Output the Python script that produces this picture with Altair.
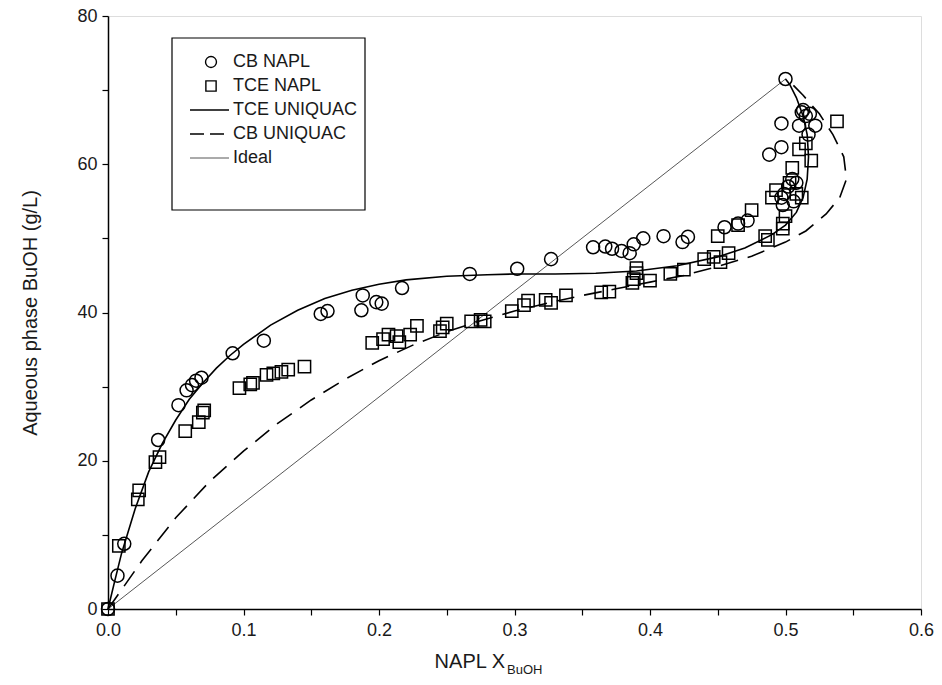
import altair as alt
import pandas as pd

# ---- data ----
cb_x = [0.000, 0.007, 0.012, 0.037, 0.052, 0.058, 0.062, 0.065, 0.069, 0.092, 0.115, 0.157, 0.162,
        0.187, 0.188, 0.198, 0.202, 0.217, 0.267, 0.302, 0.327, 0.358, 0.367, 0.372, 0.379, 0.385,
        0.388, 0.395, 0.410, 0.424, 0.428, 0.455, 0.465, 0.472, 0.488, 0.497, 0.497, 0.500, 0.497,
        0.499, 0.502, 0.505, 0.508, 0.498, 0.510, 0.512, 0.515, 0.517, 0.522, 0.513, 0.518, 0.506]
cb_y = [0.0, 4.5, 8.8, 22.8, 27.5, 29.5, 30.2, 30.8, 31.2, 34.5, 36.2, 39.8, 40.2,
        40.3, 42.3, 41.4, 41.2, 43.3, 45.2, 45.9, 47.2, 48.8, 48.9, 48.6, 48.3, 48.0,
        49.2, 50.0, 50.3, 49.5, 50.2, 51.5, 52.0, 52.4, 61.3, 62.3, 65.5, 71.5, 55.5,
        56.0, 57.0, 58.0, 57.5, 54.5, 65.2, 67.0, 66.5, 64.0, 65.2, 67.3, 66.8, 55.0]

tce_x = [0.000, 0.008, 0.022, 0.023, 0.035, 0.038, 0.057, 0.067, 0.070, 0.071, 0.097, 0.105, 0.107,
         0.117, 0.122, 0.128, 0.133, 0.145, 0.195, 0.203, 0.207, 0.213, 0.215, 0.223, 0.228, 0.245,
         0.247, 0.250, 0.268, 0.275, 0.278, 0.298, 0.307, 0.310, 0.323, 0.327, 0.338, 0.364, 0.370,
         0.387, 0.388, 0.390, 0.390, 0.400, 0.415, 0.425, 0.440, 0.447, 0.452, 0.458, 0.450, 0.465,
         0.475, 0.485, 0.487, 0.490, 0.493, 0.498, 0.498, 0.500, 0.503, 0.505, 0.508, 0.510, 0.515,
         0.519, 0.538, 0.512]
tce_y = [0.0, 8.5, 14.8, 16.0, 19.8, 20.5, 24.0, 25.2, 26.5, 26.8, 29.8, 30.3, 30.5,
         31.6, 31.8, 32.0, 32.3, 32.7, 35.9, 36.4, 37.0, 36.8, 36.0, 37.0, 38.2, 37.5,
         38.0, 38.5, 38.8, 39.0, 38.8, 40.2, 41.0, 41.6, 41.7, 41.3, 42.3, 42.7, 42.8,
         44.0, 44.5, 45.3, 46.0, 44.3, 45.2, 45.8, 47.2, 47.5, 46.8, 48.0, 50.3, 51.8,
         53.8, 50.3, 49.8, 55.5, 56.5, 52.0, 51.3, 53.0, 57.5, 59.5, 56.0, 62.0, 62.8,
         60.5, 65.8, 55.5]

tce_uq_x = [0.0, 0.005, 0.01, 0.02, 0.03, 0.04, 0.05, 0.06, 0.07, 0.08, 0.09, 0.10, 0.12, 0.14,
            0.16, 0.18, 0.20, 0.22, 0.25, 0.28, 0.30, 0.33, 0.36, 0.39, 0.42, 0.45, 0.47, 0.49,
            0.50, 0.508, 0.513, 0.516, 0.517, 0.516, 0.513, 0.508, 0.503, 0.500]
tce_uq_y = [0.0, 3.8, 7.5, 13.5, 18.5, 22.3, 25.5, 28.3, 30.5, 32.5, 34.2, 35.7, 38.3, 40.3,
            41.9, 43.0, 43.8, 44.4, 44.9, 45.1, 45.2, 45.2, 45.3, 45.6, 46.3, 47.5, 48.7, 50.5,
            51.8, 53.5, 55.5, 58.0, 61.0, 64.0, 66.5, 69.0, 70.8, 71.5]

cb_uq_x = [0.0, 0.025, 0.05, 0.075, 0.10, 0.125, 0.15, 0.175, 0.20, 0.225, 0.25, 0.275, 0.30,
           0.325, 0.35, 0.375, 0.40, 0.425, 0.45, 0.475, 0.50, 0.515, 0.53, 0.54, 0.545, 0.543,
           0.535, 0.525, 0.513, 0.505, 0.500]
cb_uq_y = [0.0, 6.5, 12.3, 17.2, 21.3, 25.0, 28.2, 31.0, 33.5, 35.6, 37.4, 38.9, 40.2,
           41.3, 42.3, 43.2, 44.1, 45.0, 46.2, 47.6, 49.5, 51.0, 53.3, 55.5, 58.0, 61.0,
           64.0, 66.8, 69.3, 70.8, 71.5]

ideal_x = [0.0, 0.5]
ideal_y = [0.0, 71.5]

x_ticks = [round(i * 0.05, 2) for i in range(13)]
y_ticks = list(range(0, 81, 10))

legend_labels = ["CB NAPL", "TCE NAPL", "TCE UNIQUAC", "CB UNIQUAC", "Ideal"]

FONT = "Liberation Sans"
INK = "#1a1a1a"

# ---- tables ----
def pts(xs, ys):
    return pd.DataFrame({"x": xs, "y": ys, "i": list(range(len(xs)))})

cb_df = pts(cb_x, cb_y)
tce_df = pts(tce_x, tce_y)
tce_uq_df = pts(tce_uq_x, tce_uq_y)
cb_uq_df = pts(cb_uq_x, cb_uq_y)
ideal_df = pts(ideal_x, ideal_y)

xscale = alt.Scale(domain=[0, 0.6], nice=False, zero=False)
yscale = alt.Scale(domain=[0, 80], nice=False, zero=False)

xaxis = alt.Axis(values=x_ticks, title=None, grid=False,
                 labelExpr="round(datum.value*100) % 10 == 0 ? format(datum.value, '.1f') : ''",
                 tickSize=6, tickColor="black", tickWidth=1.2, domainColor="black", domainWidth=1.5,
                 labelFontSize=18, labelFont=FONT, labelColor=INK, labelPadding=6,
                 labelOverlap=False, labelFlush=False)
yaxis = alt.Axis(values=y_ticks, title="Aqueous phase BuOH (g/L)", grid=False,
                 labelExpr="datum.value % 20 == 0 ? datum.label : ''",
                 tickSize=6, tickColor="black", tickWidth=1.2, domainColor="black", domainWidth=1.5,
                 labelFontSize=18, labelFont=FONT, labelColor=INK, labelPadding=5,
                 labelOverlap=False, labelFlush=False,
                 titleFont=FONT, titleFontSize=20, titleFontWeight="normal", titleColor=INK,
                 titlePadding=36)

X = alt.X("x:Q", scale=xscale, axis=xaxis)
Y = alt.Y("y:Q", scale=yscale, axis=yaxis)

ideal = alt.Chart(ideal_df).mark_line(color="#444", strokeWidth=0.9).encode(
    x=X, y=Y, order="i:Q")
tce_line = alt.Chart(tce_uq_df).mark_line(color="black", strokeWidth=1.6).encode(
    x="x:Q", y="y:Q", order="i:Q")
cb_line = alt.Chart(cb_uq_df).mark_line(color="black", strokeWidth=1.6, strokeDash=[18, 10]).encode(
    x="x:Q", y="y:Q", order="i:Q")
cb_pts = alt.Chart(cb_df).mark_point(shape="circle", filled=False, size=170, color="black",
                                     strokeWidth=1.5, opacity=1).encode(x="x:Q", y="y:Q")
tce_pts = alt.Chart(tce_df).mark_point(shape="square", filled=False, size=150, color="black",
                                       strokeWidth=1.5, opacity=1).encode(x="x:Q", y="y:Q")

# ---- hand-built legend (chrome) ----
leg_rows = [46, 70, 94, 118, 142]
one = pd.DataFrame({"a": [0]})
legend_layers = [
    alt.Chart(one).mark_rect(fill="white", stroke="black", strokeWidth=1.2).encode(
        x=alt.value(64), x2=alt.value(257), y=alt.value(22), y2=alt.value(194)),
    alt.Chart(one).mark_point(shape="circle", filled=False, size=120, color="black", strokeWidth=1.4,
                              opacity=1).encode(x=alt.value(103), y=alt.value(leg_rows[0])),
    alt.Chart(one).mark_point(shape="square", filled=False, size=105, color="black", strokeWidth=1.4,
                              opacity=1).encode(x=alt.value(103), y=alt.value(leg_rows[1])),
    alt.Chart(one).mark_rule(color="black", strokeWidth=1.4).encode(
        x=alt.value(82), x2=alt.value(121), y=alt.value(leg_rows[2])),
    alt.Chart(one).mark_rule(color="black", strokeWidth=1.4, strokeDash=[14, 6]).encode(
        x=alt.value(82), x2=alt.value(121), y=alt.value(leg_rows[3])),
    alt.Chart(one).mark_rule(color="#444", strokeWidth=0.9).encode(
        x=alt.value(82), x2=alt.value(121), y=alt.value(leg_rows[4])),
]
for lab, ry in zip(legend_labels, leg_rows):
    legend_layers.append(
        alt.Chart(one).mark_text(text=lab, font=FONT, fontSize=18, color=INK, align="left",
                                 baseline="middle").encode(x=alt.value(125), y=alt.value(ry)))

# ---- x-axis title with subscript ----
xt1 = alt.Chart(one).mark_text(text="NAPL X", font=FONT, fontSize=20, color=INK, align="right",
                               baseline="alphabetic").encode(x=alt.value(397), y=alt.value(652))
xt2 = alt.Chart(one).mark_text(text="BuOH", font=FONT, fontSize=13, color=INK, align="left",
                               baseline="alphabetic").encode(x=alt.value(399), y=alt.value(658))

chart = alt.layer(ideal, tce_line, cb_line, cb_pts, tce_pts, *legend_layers, xt1, xt2).properties(
    width=813, height=593,
    autosize=alt.AutoSizeParams(type="none"),
    padding={"left": 108, "top": 16, "right": 21, "bottom": 76},
).configure_view(stroke="black", strokeWidth=1.5).configure(background="white")

chart.save("out.html", embed_options={"renderer": "svg", "actions": False})
